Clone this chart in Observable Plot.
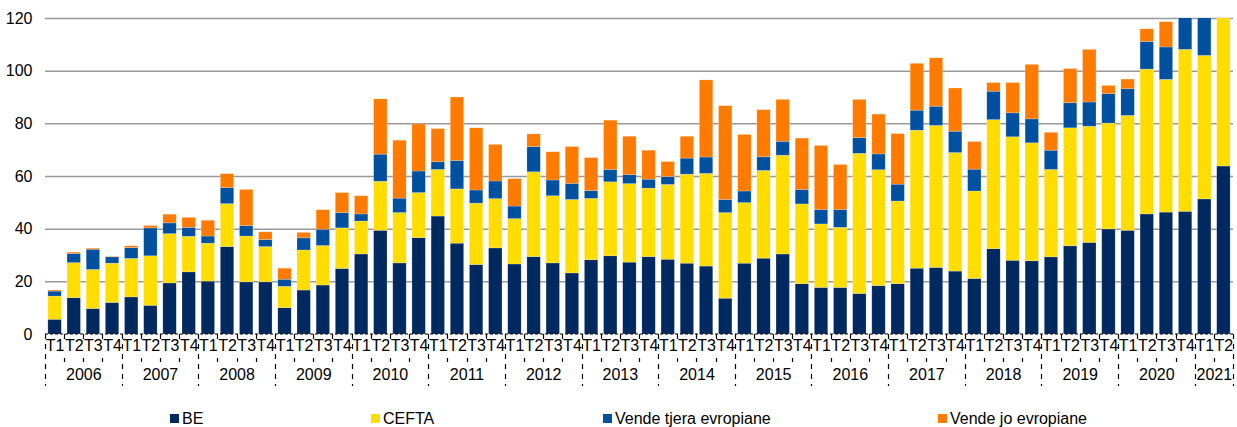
<!DOCTYPE html>
<html><head><meta charset="utf-8">
<script src="https://cdn.jsdelivr.net/npm/d3@7"></script>
<script src="https://cdn.jsdelivr.net/npm/@observablehq/plot@0.6"></script>
<style>
body{margin:0;background:#fff;font-family:"Liberation Sans",Arial,sans-serif;}
#wrap{position:relative;width:1237px;height:427px;overflow:hidden;}
#wrap svg{display:block;}
.leg{position:absolute;top:409px;height:19px;font-size:16px;line-height:19px;color:#000;display:flex;align-items:center;white-space:nowrap;}
.leg i{display:inline-block;width:9px;height:9px;margin-right:3px;}
</style></head><body><div id="wrap"></div><script>
// ---- data ----
const years = ["2006","2007","2008","2009","2010","2011","2012","2013","2014","2015","2016","2017","2018","2019","2020","2021"];
const quartersPerYear = [4,4,4,4,4,4,4,4,4,4,4,4,4,4,4,2];
const quarterNames = ["T1","T2","T3","T4"];
const seriesNames = ["BE","CEFTA","Vende tjera evropiane","Vende jo evropiane"];
const be = [5.6,13.8,9.7,12.0,14.1,10.9,19.4,23.6,20.1,33.2,19.8,19.8,10.0,16.7,18.6,24.9,30.4,39.4,27.0,36.6,44.8,34.5,26.4,32.7,26.6,29.4,27.0,23.2,28.2,29.7,27.3,29.4,28.4,26.9,25.8,13.6,26.9,28.8,30.4,19.1,17.7,17.7,15.4,18.4,19.1,25.0,25.3,23.9,21.1,32.4,28.0,27.8,29.3,33.5,34.8,39.9,39.4,45.6,46.3,46.6,51.3,63.8];
const cefta = [8.8,13.3,14.8,14.9,14.6,18.8,18.7,13.5,14.4,16.3,17.4,13.4,8.1,15.2,15.0,15.4,12.5,18.6,19.1,17.1,17.7,20.6,23.3,18.7,17.2,32.2,25.5,27.9,23.3,28.1,29.8,26.0,28.4,33.8,35.2,32.5,23.0,33.3,37.5,30.3,24.1,22.8,53.2,44.0,31.4,52.4,53.9,45.0,33.2,49.0,46.9,44.8,33.2,44.8,44.1,40.2,43.6,55.0,50.4,61.5,54.5,60.0];
const tjera = [1.9,3.5,7.7,2.4,4.1,10.6,4.1,3.4,2.7,6.1,4.0,2.7,2.7,4.6,6.2,5.8,2.7,10.3,5.5,8.2,2.9,10.8,5.0,6.7,4.8,9.6,6.0,6.1,3.0,4.7,3.4,3.4,3.0,6.1,6.2,5.0,4.4,5.2,5.3,5.5,5.5,6.8,6.0,6.0,6.4,7.6,7.3,8.1,8.3,10.8,9.1,9.1,7.3,9.5,9.2,11.2,10.2,10.5,12.3,14.0,16.0,8.0];
const jo = [0.4,0.5,0.4,0.2,0.7,0.9,3.3,3.8,6.0,5.3,13.7,2.9,4.2,2.1,7.4,7.6,6.9,21.0,22.0,17.9,12.6,24.1,23.6,13.9,10.4,4.8,10.7,14.0,12.5,18.7,14.6,11.0,5.7,8.3,29.3,35.6,21.5,17.9,15.9,19.5,24.3,17.1,14.5,15.1,19.2,17.8,18.4,16.4,10.5,3.3,11.5,20.7,6.8,13.0,20.0,3.1,3.6,4.8,9.6,4.0,4.0,4.0];
const seriesValues = [be, cefta, tjera, jo];

// ---- style ----
const colors = ["#00295F","#FFDD00","#0050A0","#FF7B00"];
const legendLeft = [170, 371, 603, 938];
const FONT = "'Liberation Sans', Arial, sans-serif";

// ---- derived tables ----
const periods = [];
years.forEach((y, yi) => { for (let q = 0; q < quartersPerYear[yi]; q++) periods.push({year: y, q: quarterNames[q], i: periods.length}); });
const n = periods.length;
const yearInfo = years.map(y => { const idx = periods.filter(p => p.year === y).map(p => p.i); return {year: y, start: idx[0], end: idx[idx.length-1], mid: (idx[0] + idx[idx.length-1]) / 2}; });
const data = [];
seriesNames.forEach((s, si) => seriesValues[si].forEach((v, i) => data.push({i, series: s, value: v})));

const plot = Plot.plot({
  width: 1237, height: 400,
  marginLeft: 45, marginRight: 4, marginTop: 18, marginBottom: 66,
  style: {fontFamily: FONT, fontSize: "16px", color: "#000", background: "#fff", overflow: "visible"},
  x: {domain: [-0.5, n - 0.5], axis: null},
  y: {domain: [0, 120], ticks: 6, tickSize: 0, tickPadding: 13, label: null},
  color: {domain: seriesNames, range: colors},
  marks: [
    Plot.ruleY(d3.range(20, 121, 20), {stroke: "#999", strokeWidth: 1.5}),
    Plot.rectY(data, {x1: d => d.i - 0.35, x2: d => d.i + 0.35, y: "value", fill: "series", clip: true, stroke: "#fff", strokeOpacity: 0.35, strokeWidth: 0.6}),
    Plot.text(periods, {x: "i", y: () => 0, text: "q", dy: 11, lineAnchor: "middle", fontSize: 16, fill: "#000"}),
    Plot.text(yearInfo, {x: "mid", y: () => 0, text: "year", dy: 40, lineAnchor: "middle", fontSize: 16, fill: "#000"})
  ]
});

// axis decorations (category brackets) positioned via the plot's scales
const sx = plot.scale("x"), sy = plot.scale("y");
const X = sx.apply ? (v => sx.apply(v)) : d3.scaleLinear(sx.domain, sx.range);
const Y = sy.apply ? (v => sy.apply(v)) : d3.scaleLinear(sy.domain, sy.range);
const y0 = Y(0);
const g = d3.select(plot).append("g").attr("fill", "none").attr("stroke", "#000").attr("stroke-width", 1.2);
g.append("line").attr("x1", X(-0.5)).attr("x2", X(n - 0.5)).attr("y1", y0).attr("y2", y0).attr("stroke-dasharray", "3,2");
const bounds = d3.range(n + 1).map(k => k - 0.5);
const yearBounds = new Set(yearInfo.map(d => d.start - 0.5).concat([n - 0.5]));
bounds.forEach(b => {
  const x = Math.round(X(b)) + 0.5;
  if (yearBounds.has(b)) {
    g.append("line").attr("x1", x).attr("x2", x).attr("y1", y0).attr("y2", y0 + 52).attr("stroke-dasharray", "5,5");
  } else {
    g.append("line").attr("x1", x).attr("x2", x).attr("y1", y0).attr("y2", y0 + 5);
    g.append("line").attr("x1", x).attr("x2", x).attr("y1", y0 + 24).attr("y2", y0 + 28);
  }
});

const wrap = document.getElementById("wrap");
wrap.appendChild(plot);
seriesNames.forEach((s, si) => {
  const d = document.createElement("div");
  d.className = "leg";
  d.style.left = legendLeft[si] + "px";
  d.innerHTML = `<i style="background:${colors[si]}"></i>`;
  d.appendChild(document.createTextNode(s));
  wrap.appendChild(d);
});
</script></body></html>
